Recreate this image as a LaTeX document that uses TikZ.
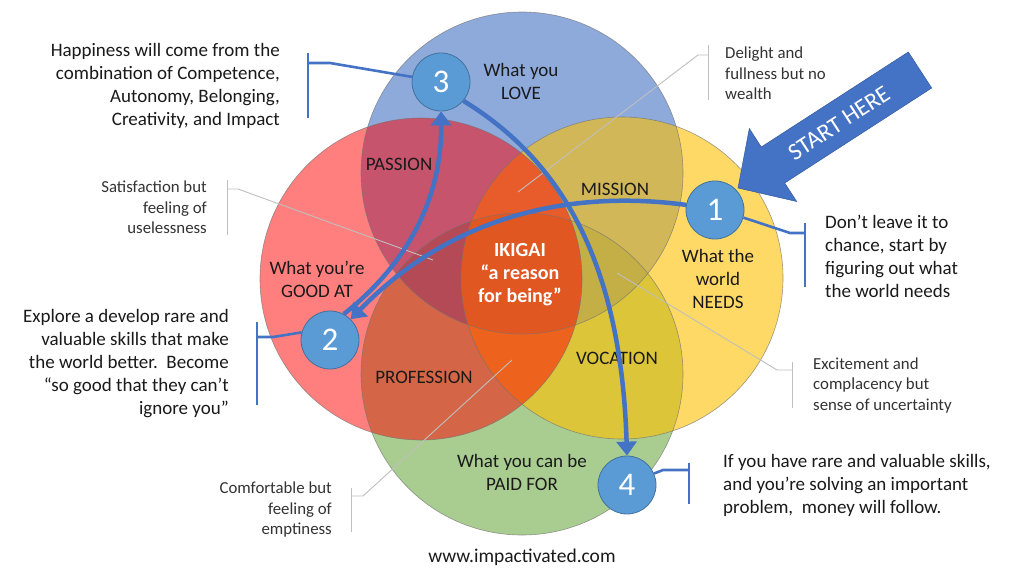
\documentclass[tikz,border=0pt]{standalone}
\usepackage{fontspec}
\setmainfont{Carlito}
\usetikzlibrary{arrows.meta}
\definecolor{cblue}{HTML}{4472C4}
\definecolor{cred}{HTML}{FF0000}
\definecolor{cyellow}{HTML}{FFC000}
\definecolor{cgreen}{HTML}{70AD47}
\definecolor{numfill}{HTML}{5B9BD5}
\definecolor{numdraw}{HTML}{41719C}
\definecolor{linegray}{HTML}{BFBFBF}
\definecolor{txt}{HTML}{1A1A1A}
\begin{document}
\begin{tikzpicture}[x=1pt,y=-1pt,
  vennfill/.style 2 args={fill=#1, fill opacity=#2},
  vennedge/.style={draw=black!55, line width=0.6pt, draw opacity=0.7},
  lbl/.style={align=center, text=txt, inner sep=0pt, font=\fontsize{19}{23}\selectfont},
  ikigailbl/.style={align=center, text=white, inner sep=0pt, font=\fontsize{20}{23}\selectfont\bfseries},
  num/.style={circle, minimum size=58pt, inner sep=0pt, fill=numfill, draw=numdraw, line width=0.8pt, text=white, font=\fontsize{33}{34}\selectfont},
  flow/.style={draw=cblue, line width=4.5pt, -{Triangle[length=14pt,width=20pt]}},
  bracket/.style={draw=cblue, line width=2.6pt},
  callout/.style={draw=linegray, line width=0.9pt},
  body/.style={text=txt, inner sep=0pt, font=\fontsize{19}{23}\selectfont},
  smalltxt/.style={text=black!80, inner sep=0pt, font=\fontsize{16.8}{20.5}\selectfont}
]
\useasboundingbox (0,0) rectangle (1024,576);
\fill[white] (0,0) rectangle (1024,576);

% Venn circles
\fill[vennfill={cgreen}{0.6}] (522,374) circle[radius=161pt];
\fill[vennfill={cblue}{0.6}] (522,173) circle[radius=161pt];
\fill[vennfill={cyellow}{0.6}] (622,278) circle[radius=161pt];
\fill[vennfill={cred}{0.5}] (421,279) circle[radius=161pt];
\draw[vennedge] (522,374) circle[radius=161pt];
\draw[vennedge] (522,173) circle[radius=161pt];
\draw[vennedge] (622,278) circle[radius=161pt];
\draw[vennedge] (421,279) circle[radius=161pt];

% gray callouts
\coordinate (g1t) at (708,45); \coordinate (g1b) at (708,100);
\coordinate (g1m) at (708,55); \coordinate (g1k) at (698,55); \coordinate (g1e) at (518,192);
\draw[callout] (g1t) -- (g1b);
\draw[callout] (g1m) -- (g1k) -- (g1e);
\coordinate (g2t) at (227,180); \coordinate (g2b) at (227,235);
\coordinate (g2m) at (227,189); \coordinate (g2k) at (238,189); \coordinate (g2e) at (433,260);
\draw[callout] (g2t) -- (g2b);
\draw[callout] (g2m) -- (g2k) -- (g2e);
\coordinate (g3t) at (792,362); \coordinate (g3b) at (792,408);
\coordinate (g3m) at (792,370); \coordinate (g3k) at (777,370); \coordinate (g3e) at (617,273);
\draw[callout] (g3t) -- (g3b);
\draw[callout] (g3m) -- (g3k) -- (g3e);
\coordinate (g4t) at (351,488); \coordinate (g4b) at (351,532);
\coordinate (g4m) at (351,496); \coordinate (g4k) at (363,496); \coordinate (g4e) at (512,360);
\draw[callout] (g4t) -- (g4b);
\draw[callout] (g4m) -- (g4k) -- (g4e);

% region labels
\node[lbl] (love) at (521,81.5) {What you\\LOVE};
\node[lbl] (passion) at (399,164) {PASSION};
\node[lbl] (mission) at (615,189) {MISSION};
\node[lbl] (good) at (317,279) {What you’re\\GOOD AT};
\node[ikigailbl] (ikigai) at (520,275) {IKIGAI\\“a reason\\for being”};
\node[lbl] (needs) at (718,279) {What the\\world\\NEEDS};
\node[lbl] (profession) at (424,377) {PROFESSION};
\node[lbl] (vocation) at (617,358) {VOCATION};
\node[lbl] (paid) at (522,472) {What you can be\\PAID FOR};
\node[lbl, font=\fontsize{19.5}{23}\selectfont] (www) at (522,557) {www.impactivated.com};

% START HERE arrow
\fill[cblue, draw=cblue!80!black, line width=0.5pt] (738,188) -- (796.7,201.5) -- (784.7,183) -- (931.7,88) -- (908.3,52) -- (761.3,147) -- (749.3,128.5) -- cycle;
\node[rotate=33, text=white, inner sep=0pt, font=\fontsize{24}{26}\selectfont] (start) at (839,123) {START HERE};

% number circles
\node[num] (c1) at (715,210) {1};
\node[num] (c2) at (330,340) {2};
\node[num] (c3) at (441,82) {3};
\node[num] (c4) at (627,485) {4};

% flow arrows
\draw[flow] (c1.170) .. controls (560,188) and (445,222) .. (c2.45);
\draw[flow] (c2.62) .. controls (410,262) and (442,195) .. (c3.south);
\draw[flow] (c3.-40) .. controls (560,160) and (621,260) .. (c4.north);

% brackets
\coordinate (b3t) at (308,53); \coordinate (b3b) at (308,118);
\coordinate (b3m) at (308,63); \coordinate (b3k) at (330,63);
\draw[bracket] (b3t) -- (b3b);
\draw[bracket] (b3m) -- (b3k) -- (c3.170);
\coordinate (b1t) at (805,223); \coordinate (b1b) at (805,287);
\coordinate (b1m) at (805,233); \coordinate (b1k) at (790,233);
\draw[bracket] (b1t) -- (b1b);
\draw[bracket] (b1m) -- (b1k) -- (c1.-15);
\coordinate (b2t) at (257,322); \coordinate (b2b) at (257,405);
\coordinate (b2m) at (257,337); \coordinate (b2k) at (273,337);
\draw[bracket] (b2t) -- (b2b);
\draw[bracket] (b2m) -- (b2k) -- (c2.165);
\coordinate (b4t) at (689,463); \coordinate (b4b) at (689,504);
\coordinate (b4m) at (689,470); \coordinate (b4k) at (663,470);
\draw[bracket] (b4t) -- (b4b);
\draw[bracket] (b4m) -- (b4k) -- (c4.23);

% side texts
\node[body, anchor=east, align=right] (t3) at (280,86) {Happiness will come from the\\combination of Competence,\\Autonomy, Belonging,\\Creativity, and Impact};
\node[body, anchor=east, align=right] (t2) at (229,364) {Explore a develop rare and\\valuable skills that make\\the world better.\ \ Become\\“so good that they can’t\\ignore you”};
\node[body, anchor=west, align=left] (t1) at (825,256) {Don’t leave it to\\chance, start by\\figuring out what\\the world needs};
\node[body, anchor=west, align=left] (t4) at (723,485) {If you have rare and valuable skills,\\and you’re solving an important\\problem,\ \ money will follow.};

\node[smalltxt, anchor=east, align=right] (s1) at (207,207.5) {Satisfaction but\\feeling of\\uselessness};
\node[smalltxt, anchor=west, align=left] (s2) at (725,73.5) {Delight and\\fullness but no\\wealth};
\node[smalltxt, anchor=west, align=left] (s3) at (813,385.5) {Excitement and\\complacency but\\sense of uncertainty};
\node[smalltxt, anchor=east, align=right] (s4) at (332,510) {Comfortable but\\feeling of\\emptiness};
\end{tikzpicture}
\end{document}
